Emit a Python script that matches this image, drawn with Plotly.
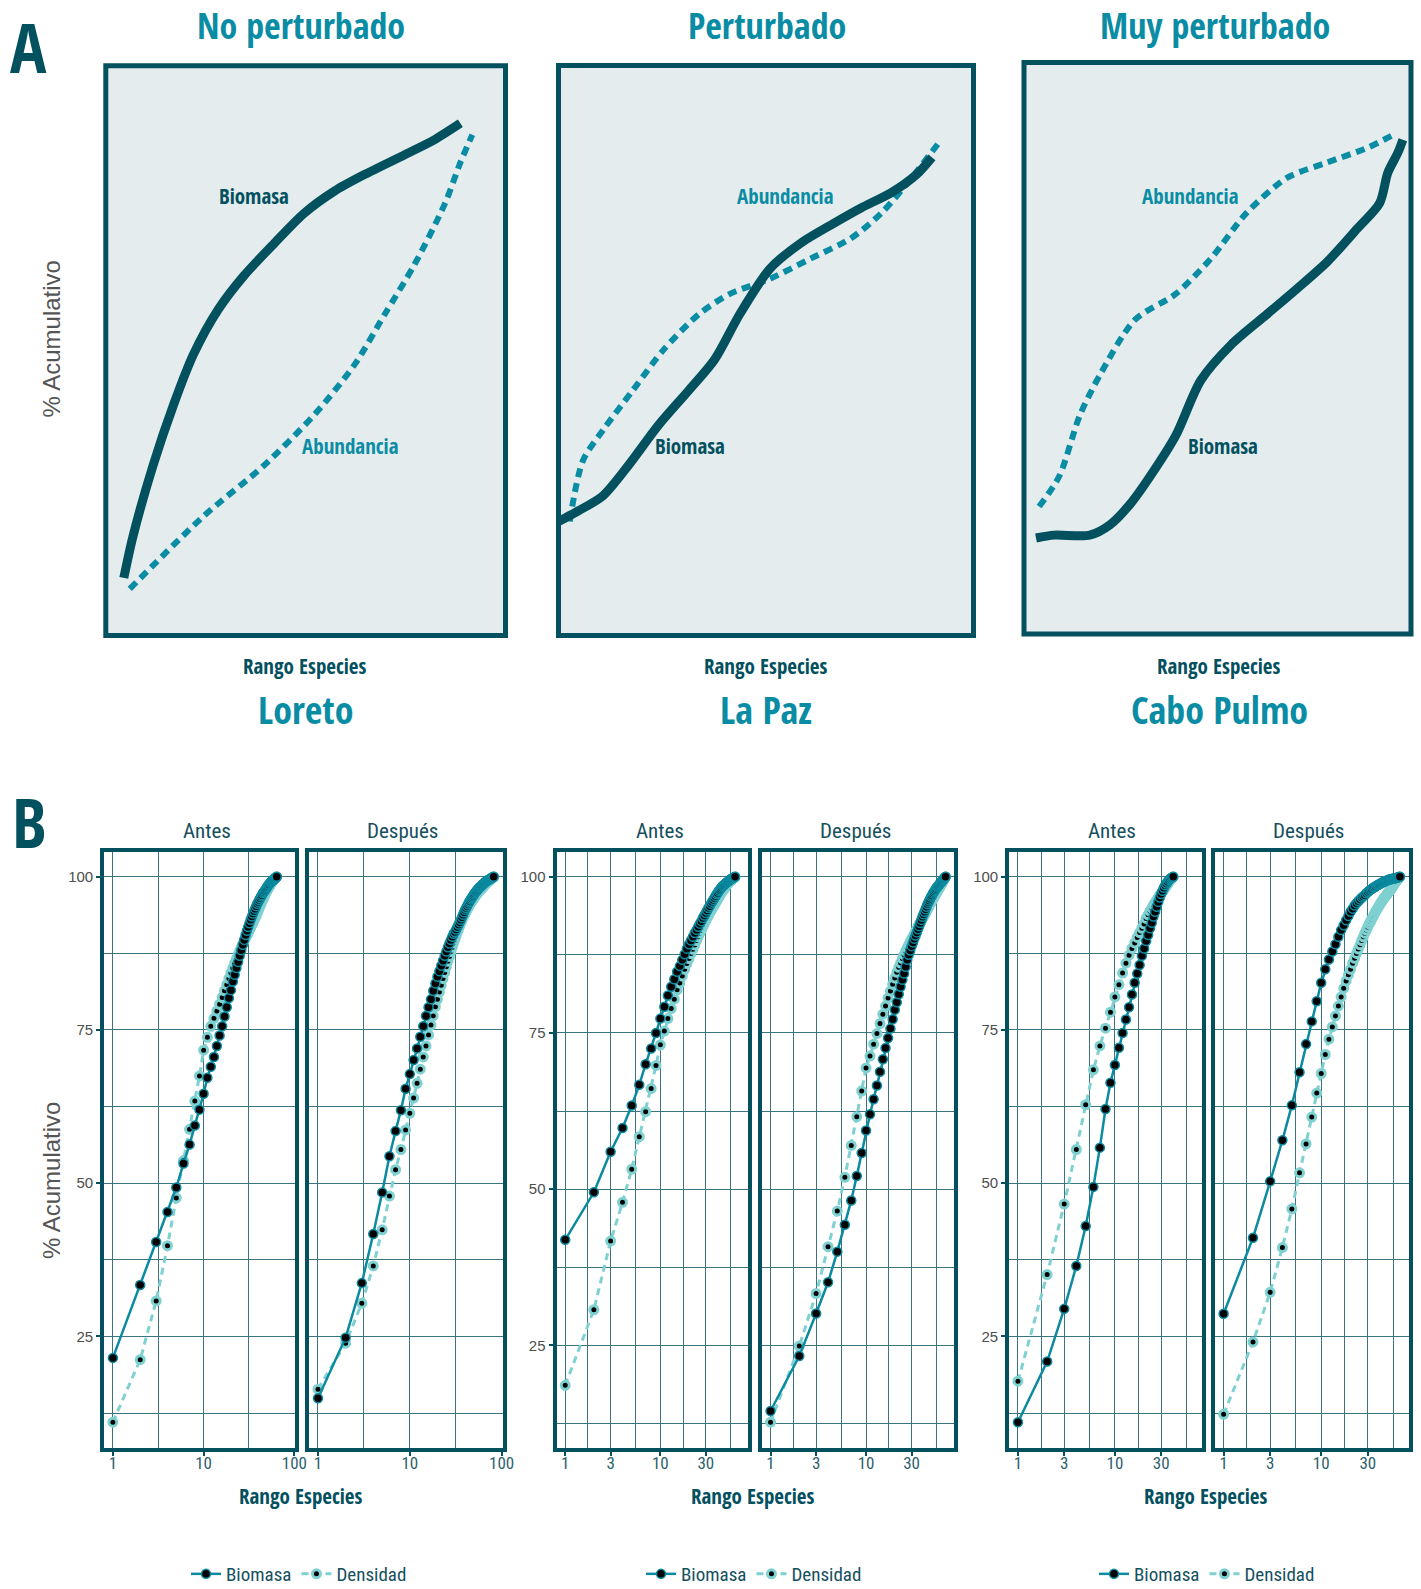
import math
import plotly.graph_objects as go

W, H = 1421, 1589
BOLDC = "'Open Sans Condensed', 'Roboto Condensed', 'DejaVu Sans Condensed', sans-serif"
REGC = "'Roboto Condensed', 'DejaVu Sans Condensed', sans-serif"
SANS = "Liberation Sans, Arial, sans-serif"
DARK = "#03505f"
TEAL = "#0a8ca4"
BIO_C = "#0b8aa0"
DEN_C = "#7fd1d1"
GRID_C = "#3a7480"

# ---------------- Panel A: schematic curves (0-100 inside each box) ----------------
a_titles = ["No perturbado", "Perturbado", "Muy perturbado"]
a_sites = ["Loreto", "La Paz", "Cabo Pulmo"]
a_axis_title = "Rango Especies"

a1_bio_x = [4.5, 6.8, 11.8, 16.9, 21.9, 28.2, 34.5, 42.1, 49.6, 57.2, 64.7, 74.8, 82.4, 88.7]
a1_bio_y = [10.1, 17.4, 29.8, 40.4, 49.3, 57.3, 63.1, 68.8, 74.1, 78.0, 80.9, 84.4, 87.1, 89.9]
a1_abu_x = [6.0, 24.4, 39.5, 52.1, 62.2, 69.8, 77.3, 84.9, 88.7, 91.7]
a1_abu_y = [8.2, 20.9, 29.8, 38.7, 47.5, 56.4, 65.2, 75.9, 83.0, 87.9]

a2_bio_x = [0.0, 4.6, 10.7, 16.8, 24.1, 31.5, 37.6, 43.7, 51.0, 58.3, 65.6, 72.9, 80.2, 86.3, 90.0]
a2_bio_y = [20.0, 21.8, 24.5, 29.8, 36.9, 43.1, 48.4, 56.4, 64.4, 68.8, 72.0, 75.0, 77.7, 80.9, 83.9]
a2_abu_x = [2.7, 5.9, 10.7, 18.0, 25.4, 33.9, 41.2, 51.0, 60.7, 70.5, 77.8, 85.1, 91.7]
a2_abu_y = [20.0, 30.7, 36.0, 43.1, 50.2, 56.4, 59.9, 62.6, 66.1, 69.7, 74.1, 80.3, 86.5]

a3_bio_x = [3.1, 7.8, 17.0, 22.2, 27.4, 32.6, 39.2, 45.7, 53.5, 62.7, 70.5, 78.3, 86.2, 91.9, 94.0, 96.6, 97.9]
a3_bio_y = [16.8, 17.3, 17.3, 19.1, 22.7, 27.6, 34.7, 44.4, 50.6, 55.9, 60.4, 65.1, 71.0, 75.4, 80.7, 84.2, 86.5]
a3_abu_x = [3.9, 9.1, 14.4, 19.6, 28.7, 39.2, 48.3, 57.4, 67.9, 78.3, 88.8, 95.3]
a3_abu_y = [22.3, 27.6, 38.2, 45.3, 55.0, 59.5, 65.7, 73.6, 79.8, 82.5, 85.1, 87.3]

a_bio_label_pos = [(37.0, 77.1), (31.7, 33.3), (51.4, 32.9)]
a_abu_label_pos = [(61.2, 33.3), (54.6, 77.1), (42.8, 76.6)]

# ---------------- Panel B: cumulative % by species rank ----------------
facet_names = ["Antes", "Después"]
series_names = ["Biomasa", "Densidad"]
g1_ticks = [1, 10, 100]
g23_ticks = [1, 3, 10, 30]
y_ticks = [25, 50, 75, 100]

g1_antes_bio = [21.5, 33.4, 40.4, 45.3, 49.3, 53.2, 56.3, 59.4, 62.0, 64.6,
                67.2, 69.0, 70.6, 72.4, 74.1, 75.6, 77.2, 78.7, 80.2, 81.5,
                82.9, 84.0, 85.1, 86.1, 87.1, 88.0, 88.9, 89.7, 90.5, 91.2,
                91.8, 92.4, 93.0, 93.5, 94.0, 94.4, 94.8, 95.2, 95.6, 95.9,
                96.2, 96.5, 96.8, 97.0, 97.3, 97.5, 97.7, 97.9, 98.1, 98.3,
                98.5, 98.7, 98.8, 99.0, 99.1, 99.2, 99.3, 99.4, 99.5, 99.6,
                99.7, 99.8, 99.9, 100.0]
g1_antes_den = [11.0, 21.2, 30.8, 39.8, 47.6, 53.7, 58.8, 63.4, 67.5, 71.7,
                73.8, 75.6, 76.9, 78.1, 79.2, 80.3, 81.4, 82.4, 83.4, 84.3,
                85.1, 85.9, 86.6, 87.3, 87.9, 88.5, 89.0, 89.5, 90.0, 90.4,
                90.8, 91.3, 91.7, 92.1, 92.5, 92.9, 93.3, 93.7, 94.1, 94.5,
                94.9, 95.3, 95.6, 96.0, 96.3, 96.6, 96.9, 97.2, 97.5, 97.7,
                98.0, 98.2, 98.4, 98.6, 98.8, 99.0, 99.2, 99.4, 99.55, 99.7,
                99.8, 99.9, 99.95, 100.0]
g1_desp_bio = [14.9, 24.8, 33.7, 41.7, 48.5, 54.4, 58.5, 61.9, 65.4, 67.8,
               70.1, 72.0, 73.9, 75.6, 77.3, 78.7, 80.0, 81.4, 82.6, 83.7,
               84.6, 85.5, 86.3, 87.1, 87.8, 88.5, 89.1, 89.7, 90.2, 90.7,
               91.0, 91.4, 91.8, 92.2, 92.6, 93.0, 93.4, 93.8, 94.2, 94.6,
               94.9, 95.2, 95.5, 95.8, 96.0, 96.3, 96.5, 96.7, 96.9, 97.1,
               97.3, 97.5, 97.6, 97.8, 97.9, 98.1, 98.2, 98.3, 98.4, 98.5,
               98.6, 98.7, 98.8, 98.9, 99.0, 99.1, 99.2, 99.25, 99.3, 99.4,
               99.45, 99.5, 99.55, 99.6, 99.65, 99.7, 99.75, 99.8, 99.85, 99.9,
               99.95, 100.0]
g1_desp_den = [16.4, 23.9, 30.4, 36.5, 42.4, 47.9, 52.2, 55.5, 58.7, 61.4,
               63.9, 66.3, 68.6, 70.6, 72.4, 74.2, 75.8, 77.3, 78.8, 80.0,
               81.2, 82.3, 83.4, 84.4, 85.3, 86.2, 87.0, 87.8, 88.5, 89.2,
               89.8, 90.4, 91.0, 91.5, 92.0, 92.5, 92.9, 93.3, 93.7, 94.0,
               94.3, 94.6, 94.9, 95.2, 95.5, 95.7, 95.9, 96.1, 96.3, 96.5,
               96.7, 96.9, 97.1, 97.2, 97.4, 97.5, 97.7, 97.8, 97.9, 98.0,
               98.1, 98.25, 98.4, 98.5, 98.6, 98.7, 98.8, 98.9, 99.0, 99.1,
               99.2, 99.3, 99.35, 99.45, 99.5, 99.6, 99.7, 99.75, 99.8, 99.9,
               99.95, 100.0]

g2_antes_bio = [41.9, 49.5, 56.0, 59.8, 63.4, 66.7, 70.0, 72.5, 75.0, 77.3,
                79.2, 81.0, 82.4, 83.6, 84.8, 85.7, 86.7, 87.6, 88.5, 89.2,
                89.8, 90.4, 91.0, 91.5, 92.0, 92.5, 92.9, 93.4, 93.8, 94.2,
                94.6, 95.0, 95.3, 95.7, 96.0, 96.3, 96.6, 96.9, 97.2, 97.4,
                97.7, 97.9, 98.1, 98.3, 98.5, 98.6, 98.7, 98.85, 99.0, 99.1,
                99.2, 99.3, 99.4, 99.5, 99.6, 99.68, 99.75, 99.82, 99.88, 99.94,
                100.0]
g2_antes_den = [18.6, 30.7, 41.7, 47.9, 53.2, 58.4, 62.4, 66.1, 69.8, 73.1,
                75.3, 77.3, 78.9, 80.4, 81.9, 83.0, 84.1, 85.2, 86.1, 86.9,
                87.7, 88.4, 89.1, 89.8, 90.4, 91.0, 91.5, 92.0, 92.5, 93.0,
                93.4, 93.8, 94.2, 94.5, 94.9, 95.2, 95.5, 95.8, 96.1, 96.4,
                96.7, 97.0, 97.2, 97.5, 97.7, 97.9, 98.1, 98.3, 98.5, 98.7,
                98.85, 99.0, 99.15, 99.3, 99.4, 99.5, 99.6, 99.7, 99.8, 99.9,
                100.0]
g2_desp_bio = [14.5, 23.3, 30.1, 35.1, 40.0, 44.3, 48.2, 52.1, 55.8, 59.4,
               62.0, 64.4, 66.6, 68.8, 70.8, 72.6, 74.2, 75.7, 77.2, 78.7,
               79.9, 81.2, 82.4, 83.5, 84.5, 85.6, 86.7, 87.5, 88.2, 88.9,
               89.5, 90.1, 90.6, 91.1, 91.6, 92.1, 92.6, 93.1, 93.6, 94.0,
               94.4, 94.8, 95.2, 95.6, 95.9, 96.2, 96.5, 96.8, 97.0, 97.3,
               97.5, 97.7, 97.9, 98.1, 98.3, 98.4, 98.55, 98.7, 98.85, 99.0,
               99.1, 99.25, 99.4, 99.5, 99.65, 99.75, 99.9, 100.0]
g2_desp_den = [12.7, 24.9, 33.3, 40.8, 46.5, 51.9, 57.0, 61.6, 65.7, 69.4,
               71.3, 73.2, 74.9, 76.5, 78.0, 79.3, 80.6, 81.7, 82.8, 83.8,
               84.7, 85.5, 86.2, 86.9, 87.5, 88.1, 88.6, 89.1, 89.6, 90.0,
               90.4, 90.8, 91.2, 91.6, 92.0, 92.4, 92.7, 93.0, 93.3, 93.6,
               93.9, 94.2, 94.5, 94.8, 95.1, 95.4, 95.7, 95.9, 96.2, 96.4,
               96.6, 96.9, 97.1, 97.3, 97.5, 97.7, 97.9, 98.1, 98.3, 98.5,
               98.7, 98.9, 99.1, 99.3, 99.5, 99.65, 99.8, 100.0]

g3_antes_bio = [11.0, 20.9, 29.5, 36.5, 43.0, 49.4, 55.8, 62.1, 66.4, 69.3,
                72.1, 74.5, 76.7, 78.7, 80.8, 82.7, 84.2, 85.6, 87.1, 88.3,
                89.5, 90.5, 91.6, 92.5, 93.5, 94.3, 95.1, 95.9, 96.6, 97.2,
                97.7, 98.2, 98.6, 98.9, 99.2, 99.45, 99.65, 99.8, 99.92, 100.0]
g3_antes_den = [17.7, 35.1, 46.6, 55.5, 62.8, 68.5, 72.4, 75.3, 77.9, 80.4,
                82.4, 84.3, 85.9, 87.2, 88.3, 89.2, 90.1, 90.9, 91.6, 92.3,
                93.2, 93.8, 94.4, 94.9, 95.4, 95.8, 96.2, 96.6, 97.0, 97.3,
                97.6, 97.9, 98.2, 98.5, 98.8, 99.1, 99.4, 99.6, 99.8, 100.0]
g3_desp_bio = [28.7, 41.1, 50.3, 57.0, 62.7, 68.1, 72.7, 76.4, 79.7, 82.7,
               84.9, 86.5, 87.8, 89.0, 90.2, 91.3, 92.1, 92.9, 93.6, 94.3,
               94.8, 95.3, 95.7, 96.0, 96.3, 96.6, 96.8, 97.0, 97.3, 97.5,
               97.7, 97.9, 98.0, 98.2, 98.3, 98.4, 98.55, 98.65, 98.75, 98.85,
               98.95, 99.05, 99.1, 99.2, 99.25, 99.3, 99.4, 99.45, 99.5, 99.55,
               99.6, 99.62, 99.65, 99.68, 99.7, 99.73, 99.76, 99.8, 99.83, 99.86,
               99.9, 99.93, 99.96, 100.0]
g3_desp_den = [12.3, 24.1, 32.2, 39.5, 45.8, 51.7, 56.4, 60.8, 64.7, 67.9,
               71.0, 73.5, 75.5, 77.3, 78.9, 80.4, 81.8, 83.0, 84.0, 84.9,
               85.9, 86.7, 87.5, 88.2, 88.9, 89.6, 90.2, 90.8, 91.3, 91.8,
               92.3, 92.7, 93.1, 93.5, 93.9, 94.3, 94.6, 94.9, 95.2, 95.5,
               95.8, 96.0, 96.3, 96.5, 96.7, 96.9, 97.1, 97.3, 97.5, 97.6,
               97.8, 98.0, 98.2, 98.4, 98.6, 98.8, 99.0, 99.15, 99.3, 99.45,
               99.6, 99.75, 99.9, 100.0]

# ---------------- layout geometry (pixels) ----------------
a_boxes = [(105.8, 505.5, 65.8, 635.5), (558.5, 973.5, 65.5, 635.5), (1024.0, 1411.0, 62.5, 634.0)]
a_centers = [305, 766, 1219]
a_title_x = [297 * 1.0135, 757 * 1.0135, 1199 * 1.0135]

b_panels = [
    [(102.2, 297.2), (307.2, 504.5)],
    [(554.5, 750.3), (759.8, 956.3)],
    [(1007.2, 1203.8), (1212.8, 1410.7)],
]
b_y = (849.5, 1449.5)
b_strip_x = [[207, 402], [659.5, 855.3], [1112, 1308]]
b_xtitle_x = [301, 753, 1206]
b_legend_x = [186, 641, 1094]

groups = [
    (g1_antes_bio, g1_antes_den, g1_desp_bio, g1_desp_den, g1_ticks),
    (g2_antes_bio, g2_antes_den, g2_desp_bio, g2_desp_den, g23_ticks),
    (g3_antes_bio, g3_antes_den, g3_desp_bio, g3_desp_den, g23_ticks),
]


def px_x(x):
    return x / W


def px_y(y):
    return 1 - y / H


def note(x, y, text, font, **kw):
    d = dict(x=px_x(x), y=px_y(y), xref="paper", yref="paper", text=text, showarrow=False,
             xanchor="center", yanchor="middle", font=font)
    d.update(kw)
    return d


fig = go.Figure()
layout = {}
annotations = []
shapes = []

# ---- Panel A ----
a_series = [
    (a1_bio_x, a1_bio_y, a1_abu_x, a1_abu_y),
    (a2_bio_x, a2_bio_y, a2_abu_x, a2_abu_y),
    (a3_bio_x, a3_bio_y, a3_abu_x, a3_abu_y),
]
for i, (bx, by, ax_, ay_) in enumerate(a_series):
    n = i + 1
    x0, x1, y0, y1 = a_boxes[i]
    xn = "x" if n == 1 else f"x{n}"
    yn = "y" if n == 1 else f"y{n}"
    layout[f"xaxis{'' if n == 1 else n}"] = dict(domain=[px_x(x0), px_x(x1)], range=[0, 100], visible=False,
                                                 anchor=yn, fixedrange=True)
    layout[f"yaxis{'' if n == 1 else n}"] = dict(domain=[px_y(y1), px_y(y0)], range=[0, 100], visible=False,
                                                 anchor=xn, fixedrange=True)
    shapes.append(dict(type="rect", xref=f"{xn} domain", yref=f"{yn} domain", x0=0, x1=1, y0=0, y1=1,
                       fillcolor="#e4ecee", line=dict(color=DARK, width=5), layer="below"))
    fig.add_trace(go.Scatter(x=ax_, y=ay_, mode="lines", xaxis=xn, yaxis=yn, showlegend=False,
                             line=dict(color=TEAL, width=6, dash="9px,6px", shape="spline", smoothing=0.8),
                             hoverinfo="skip"))
    fig.add_trace(go.Scatter(x=bx, y=by, mode="lines", xaxis=xn, yaxis=yn, showlegend=False,
                             line=dict(color=DARK, width=9, shape="spline", smoothing=0.8),
                             hoverinfo="skip"))
    lbx, lby = a_bio_label_pos[i]
    annotations.append(dict(x=lbx, y=lby, xref=xn, yref=yn, text="<b>Biomasa</b>", showarrow=False,
                            xanchor="center", yanchor="middle",
                            font=dict(family=BOLDC, size=21, color=DARK)))
    lax, lay = a_abu_label_pos[i]
    annotations.append(dict(x=lax, y=lay, xref=xn, yref=yn, text="<b>Abundancia</b>", showarrow=False,
                            xanchor="center", yanchor="middle",
                            font=dict(family=BOLDC, size=21, color=TEAL)))
    annotations.append(note(a_title_x[i], 26, f"<b>{a_titles[i]}</b>",
                            dict(family=BOLDC, size=36, color=TEAL), borderpad=0))
    annotations.append(note(a_centers[i], 666, f"<b>{a_axis_title}</b>",
                            dict(family=BOLDC, size=21, color=DARK)))
    annotations.append(note(a_centers[i], 709, f"<b>{a_sites[i]}</b>",
                            dict(family=BOLDC, size=38, color=TEAL)))

# ---- Panel B ----
LW = 4
n = 4
for g, (ab, ad, db, dd, ticks) in enumerate(groups):
    nmax = max(len(ab), len(ad), len(db), len(dd))
    L = math.log10(nmax)
    xr = [-0.05 * L, 1.05 * L]
    ymin = min(min(ab), min(ad), min(db), min(dd))
    span = 100 - ymin
    yr = [ymin - 0.05 * span, 100 + 0.05 * span]
    if ticks == g1_ticks:
        minor_x = [10 ** 0.5, 10 ** 1.5]
    else:
        minor_x = [math.sqrt(3), math.sqrt(30), math.sqrt(300), math.sqrt(3000)]
    for f, (bio, den) in enumerate([(ab, ad), (db, dd)]):
        px0, px1 = b_panels[g][f]
        py0, py1 = b_y
        half = LW / 2
        dy = (yr[1] - yr[0]) * half / (py1 - py0)
        xn, yn = f"x{n}", f"y{n}"
        show_y = (f == 0)
        layout[f"xaxis{n}"] = dict(
            domain=[px_x(px0 + half), px_x(px1 - half)], type="log",
            range=xr, anchor=yn,
            showline=True, mirror=True, linecolor=DARK, linewidth=LW,
            showgrid=True, gridcolor=GRID_C, gridwidth=1.2, zeroline=False,
            tickvals=ticks, ticktext=[str(t) for t in ticks],
            ticks="outside", ticklen=4, tickwidth=2, tickcolor=DARK,
            ticklabelstandoff=-7,
            tickfont=dict(family=REGC, size=17, color="#2e5f6c"),
            minor=dict(tickvals=minor_x, showgrid=True, gridcolor=GRID_C, gridwidth=1.2, ticks=""),
            fixedrange=True)
        layout[f"yaxis{n}"] = dict(
            domain=[px_y(py1 - half), px_y(py0 + half)], range=[yr[0] + dy, yr[1] - dy], anchor=xn,
            showline=True, mirror=True, linecolor=DARK, linewidth=LW,
            showgrid=True, gridcolor=GRID_C, gridwidth=1.2, zeroline=False,
            tickvals=y_ticks, ticktext=[str(t) for t in y_ticks],
            ticks="outside" if show_y else "", ticklen=4, tickwidth=2, tickcolor=DARK,
            showticklabels=show_y,
            tickfont=dict(family=SANS, size=15, color="#4d4d4d"),
            minor=dict(tickvals=[12.5, 37.5, 62.5, 87.5], showgrid=True, gridcolor=GRID_C,
                       gridwidth=1.2, ticks=""),
            fixedrange=True)
        leg = "legend" if g == 0 else f"legend{g + 1}"
        fig.add_trace(go.Scatter(
            x=list(range(1, len(den) + 1)), y=den, mode="lines+markers", name=series_names[1],
            xaxis=xn, yaxis=yn, legend=leg, showlegend=(f == 0), legendrank=2,
            line=dict(color=DEN_C, width=3, dash="7px,5px"),
            marker=dict(color="black", size=8, line=dict(color=DEN_C, width=3)),
            hoverinfo="skip"))
        fig.add_trace(go.Scatter(
            x=list(range(1, len(bio) + 1)), y=bio, mode="lines+markers", name=series_names[0],
            xaxis=xn, yaxis=yn, legend=leg, showlegend=(f == 0), legendrank=1,
            line=dict(color=BIO_C, width=2.5),
            marker=dict(color="black", size=9, line=dict(color=BIO_C, width=1.5)),
            hoverinfo="skip"))
        annotations.append(note(b_strip_x[g][f], 831, facet_names[f],
                                dict(family=REGC, size=21, color="#174f5d")))
        n += 1
    annotations.append(note(b_xtitle_x[g], 1496, f"<b>{a_axis_title}</b>",
                            dict(family=BOLDC, size=21, color=DARK)))
    leg_key = "legend" if g == 0 else f"legend{g + 1}"
    layout[leg_key] = dict(orientation="h", x=px_x(b_legend_x[g]), y=px_y(1574),
                           xanchor="left", yanchor="middle", bgcolor="rgba(0,0,0,0)",
                           font=dict(family=REGC, size=19, color="#14505e"),
                           itemwidth=30, tracegroupgap=0, traceorder="normal")

# Big letters and y titles
annotations.append(note(29, 47, "<b>A</b>", dict(family=BOLDC, size=68, color=DARK)))
annotations.append(note(29, 821, "<b>B</b>", dict(family=BOLDC, size=68, color=DARK)))
for yy in (339.5, 1181):
    annotations.append(note(51, yy, "% Acumulativo", dict(family=SANS, size=24, color="#555555"),
                            textangle=-90))

fig.update_layout(**layout)
fig.update_layout(width=W, height=H, margin=dict(l=0, r=0, t=0, b=0, autoexpand=False),
                  paper_bgcolor="white", plot_bgcolor="white",
                  annotations=annotations, shapes=shapes)

fig.write_html("out.html", config={"displayModeBar": False})
